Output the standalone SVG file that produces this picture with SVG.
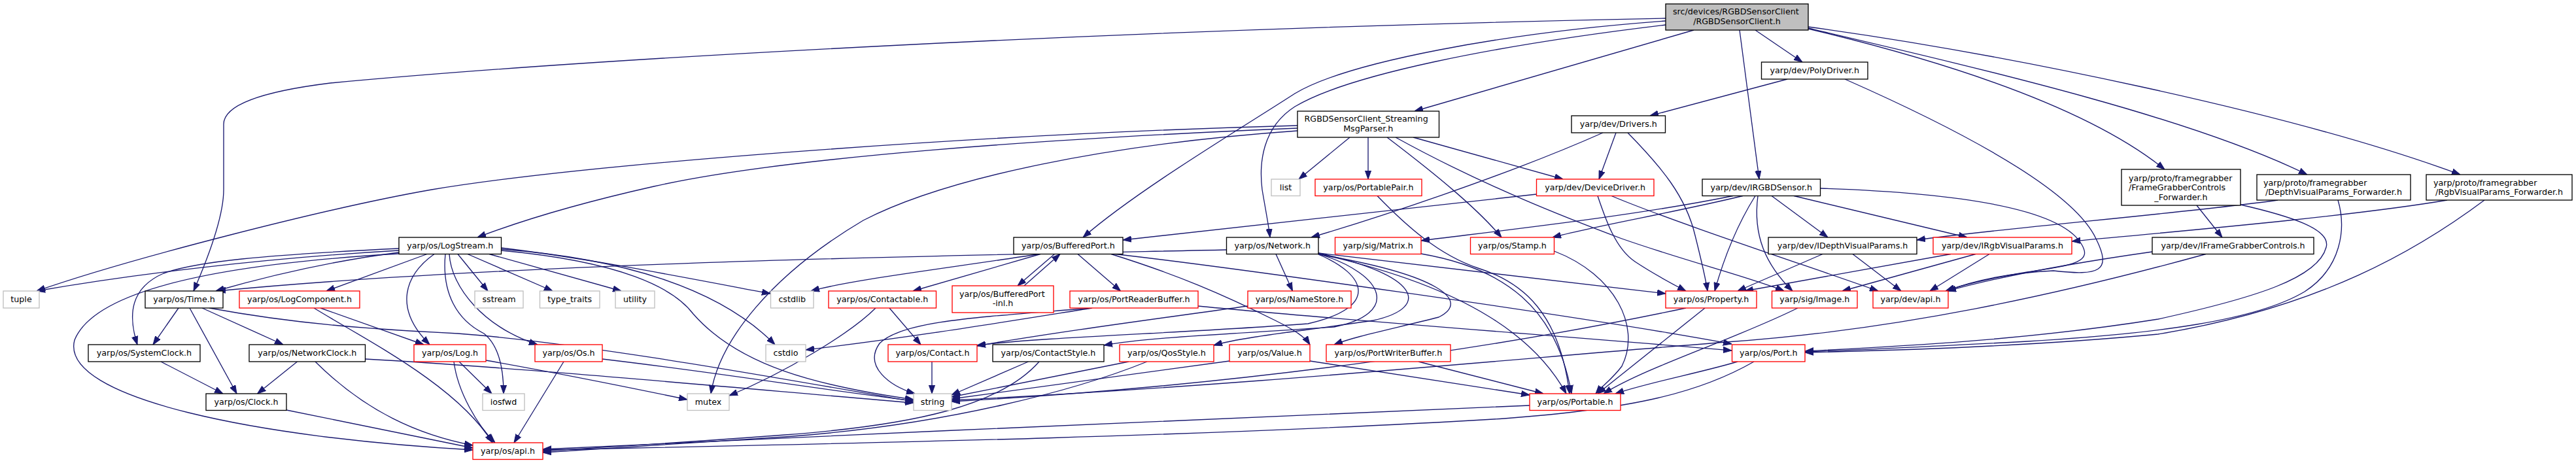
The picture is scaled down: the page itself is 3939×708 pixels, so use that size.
<svg xmlns="http://www.w3.org/2000/svg" width="3939" height="708" viewBox="0 0 3939 708">
<style>
.n rect{fill:#fff;stroke-width:1.33}
.b rect{stroke:#000}
.r rect{stroke:#ff0000}
.g rect{stroke:#bfbfbf}
.top rect{fill:#bfbfbf;stroke:#000}
text{font-family:"DejaVu Sans","Liberation Sans",sans-serif;font-size:12.7px;fill:#000}
.c{text-anchor:middle}
#edges path{fill:none;stroke:#191970;stroke-width:1.33;marker-end:url(#arr)}
</style>
<defs>
<marker id="arr" viewBox="0 0 13 10" refX="13" refY="5" markerWidth="13" markerHeight="10" markerUnits="userSpaceOnUse" orient="auto">
<path d="M0,0.4 L13,5 L0,9.6 z" fill="#191970" stroke="#191970" stroke-width="1"/>
</marker>
</defs>
<rect width="3939" height="708" fill="#fff"/>
<g id="edges">
<path d="M2684,46 L2756,95"/>
<path d="M2590,46 L2163,170"/>
<path d="M2660,46 L2690,274"/>
<path d="M2765,44 C3000,100 3200,170 3310,259"/>
<path d="M2765,43 C3050,110 3350,180 3528,267"/>
<path d="M2765,41 C3050,80 3500,170 3762,267"/>
<path d="M2547,32 C2300,50 2060,95 1980,143 C1900,195 1740,290 1656,363"/>
<path d="M2547,38 C2280,70 2060,115 1980,163 C1930,195 1925,250 1930,290 C1935,320 1940,345 1942,363"/>
<path d="M2547,28 C1700,45 900,90 505,127 C400,140 342,160 342,190 L342,290 C342,330 320,390 296,445"/>
<path d="M2733,121 L2523,177"/>
<path d="M2821,121 C3000,200 3170,290 3205,365 C3230,415 3210,422 3140,414 C3060,418 3010,432 2976,445"/>
<path d="M2064,210 L1986,274"/>
<path d="M2092,210 L2092,274"/>
<path d="M2161,210 L2390,274"/>
<path d="M2121,210 C2200,270 2260,320 2296,363"/>
<path d="M2134,210 C2270,285 2400,335 2480,365 C2580,400 2680,425 2728,445"/>
<path d="M1984,192 C1500,205 900,250 660,290 C500,318 200,395 56,445"/>
<path d="M1984,196 C1600,212 1200,240 1000,285 C880,312 790,340 730,363"/>
<path d="M1984,200 C1700,220 1450,270 1320,337 C1180,420 1100,520 1087,602"/>
<path d="M2106,299.5 C2150,345 2200,390 2260,410 C2330,432 2385,480 2400,602"/>
<path d="M2471,203 L2445,274"/>
<path d="M2489,203 C2540,255 2578,300 2592,360 C2602,400 2608,425 2611,445"/>
<path d="M2451,203 C2300,270 2100,335 2005,363"/>
<path d="M2349.5,297 L1717,367"/>
<path d="M2443,299.5 C2455,335 2470,380 2500,400 C2530,420 2555,433 2578,445"/>
<path d="M2464,299.5 C2560,340 2780,412 2872,445"/>
<path d="M2709,299.5 L2795,363"/>
<path d="M2743,299.5 L3008,363"/>
<path d="M2783.5,288 C3000,295 3150,320 3182,372 C3200,400 3175,405 3100,416 C3040,426 3000,436 2975,445"/>
<path d="M2684,299.5 C2665,330 2640,380 2622,445"/>
<path d="M2688,299.5 C2680,360 2700,405 2741,445"/>
<path d="M2650,299.5 C2500,330 2300,352 2173,368"/>
<path d="M2665,299.5 C2560,325 2440,345 2374,363"/>
<path d="M3359,314 L3398,363"/>
<path d="M3426,313 C3500,330 3565,350 3557,378 C3545,425 3450,455 3300,488 C3100,520 2900,530 2760,537"/>
<path d="M3483,306 C3350,325 3050,350 2931,367"/>
<path d="M3575,306 C3588,350 3580,410 3524,446 C3450,490 3300,510 3100,522 C2950,530 2850,535 2760,538"/>
<path d="M3742,306 C3600,330 3350,352 3168,369"/>
<path d="M3799,306 C3700,380 3550,470 3300,511 C3100,530 2900,536 2760,539"/>
<path d="M3291,385 C3150,405 3050,425 2978,445"/>
<path d="M3373,388.5 C3150,450 2900,505 2640,523 C2300,550 1900,590 1455,612"/>
<path d="M2787,388.5 L2657,445"/>
<path d="M2833,388.5 L2907,445"/>
<path d="M2983,388.5 L2668,445"/>
<path d="M3021,388.5 L2817,445"/>
<path d="M3042,388.5 L2951,445"/>
<path d="M610,383 C400,395 200,420 56,445"/>
<path d="M610,386 C500,400 400,425 330,445"/>
<path d="M610,380 C400,390 300,400 250,418 C200,440 195,480 210,527"/>
<path d="M653,388.5 L499,445"/>
<path d="M664,388.5 C620,420 600,470 657,527"/>
<path d="M610,388 C400,400 150,430 114,520 C90,610 400,670 723,688"/>
<path d="M700,388.5 L746,445"/>
<path d="M715,388.5 L845,445"/>
<path d="M748,388.5 L950,445"/>
<path d="M766.5,379 C900,395 1050,425 1178,449"/>
<path d="M766.5,381 C950,395 1100,440 1185,527"/>
<path d="M766.5,383 C950,400 1030,440 1060,480 C1130,560 1250,590 1397,611"/>
<path d="M681,388.5 C675,450 700,490 740,510 C765,530 770,570 770,602"/>
<path d="M687,388.5 C690,440 740,500 822,527"/>
<path d="M273,471 L234,527"/>
<path d="M290,471 L362,602"/>
<path d="M309,471 L433,527"/>
<path d="M320,471 C450,495 560,503 700,510 C900,525 1200,580 1397,614"/>
<path d="M490,471 L648,527"/>
<path d="M480,471 C560,520 700,590 753,677"/>
<path d="M246,553 L341,602"/>
<path d="M454.5,553 L393.5,602"/>
<path d="M482,553 C560,630 640,665 723,681"/>
<path d="M558.5,549 C800,562 1200,600 1397,616"/>
<path d="M438,627 C550,650 650,670 723,685"/>
<path d="M702,553 L752,602"/>
<path d="M694,553 C700,600 730,650 757,677"/>
<path d="M743,551 C850,570 950,590 1051,611"/>
<path d="M862,553 L786,677"/>
<path d="M921,549 C1100,570 1250,595 1397,613"/>
<path d="M1591,388.5 L1396,445"/>
<path d="M1612.5,388.5 L1556,437"/>
<path d="M1566,437 L1621,388.5"/>
<path d="M1648,388.5 L1713.5,445"/>
<path d="M1589,388.5 C1450,410 1300,428 1240,445"/>
<path d="M1705,388.5 C1850,405 2400,480 2648,526"/>
<path d="M1699,388.5 C1800,420 1870,450 1950,490 C1980,505 1995,515 2003,527"/>
<path d="M1875.5,382 C1500,390 800,400 332,445"/>
<path d="M1951,388.5 L1976.5,445"/>
<path d="M2016,389 C2090,420 2110,470 2000,495 C1800,510 1600,515 1494,528"/>
<path d="M2016,388 C2120,420 2140,480 2040,500 C1900,510 1760,515 1688,528"/>
<path d="M2016,387 C2170,420 2190,470 2100,490 C2000,505 1900,515 1856,528"/>
<path d="M2016,389 C2200,420 2250,460 2200,485 C2120,505 2070,515 2040,527"/>
<path d="M2016,387 L2547,449"/>
<path d="M2016,388 C2250,440 2350,520 2395,602"/>
<path d="M2173,388 C2300,410 2380,470 2403,602"/>
<path d="M2376.5,384 C2470,420 2510,500 2480,560 C2465,580 2450,590 2440,602"/>
<path d="M1670,471 C1550,490 1400,515 1232,535"/>
<path d="M1669,471 C1500,485 1380,490 1345,525 C1320,560 1360,590 1399,602"/>
<path d="M1832,468 C2000,485 2400,515 2648,536"/>
<path d="M1360,471 L1408,527"/>
<path d="M1339,471 C1300,510 1200,570 1115,605"/>
<path d="M1425,553 L1425,602"/>
<path d="M1572.5,553 L1455,604"/>
<path d="M1589,553 C1530,620 1400,650 1200,665 C1000,680 900,685 830,690"/>
<path d="M1726,553 L1455,607"/>
<path d="M1754,553 C1650,595 1450,650 1200,668 C1000,682 900,688 830,692"/>
<path d="M1880,552 L1455,610"/>
<path d="M2003,552 L2339,604"/>
<path d="M2169,553 L2360,602"/>
<path d="M2607,471 L2443,602"/>
<path d="M2578,471 C2300,530 1900,590 1455,614"/>
<path d="M2749,471 C2650,520 2520,560 2452,602"/>
<path d="M2657,553 C2600,570 2520,585 2470,602"/>
<path d="M2682,553 C2600,600 2500,625 2300,640 C1800,670 1200,680 830,688"/>
<path d="M2339,620 C2000,633 1300,665 830,687"/>
<path d="M1908,468 C1750,490 1600,510 1494,529"/>
</g>
<g id="n01" class="n top"><rect x="2547" y="6" width="218" height="40"/><text x="2558" y="22">src/devices/RGBDSensorClient</text><text class="c" x="2656" y="37">/RGBDSensorClient.h</text></g>
<g id="n02" class="n b"><rect x="2693.5" y="95" width="162.5" height="26"/><text class="c" x="2774.75" y="112">yarp/dev/PolyDriver.h</text></g>
<g id="n03" class="n b"><rect x="1984" y="170" width="216.5" height="40"/><text x="1994.5" y="186">RGBDSensorClient_Streaming</text><text class="c" x="2092.25" y="201">MsgParser.h</text></g>
<g id="n04" class="n b"><rect x="2403" y="177" width="143.5" height="26"/><text class="c" x="2474.75" y="194">yarp/dev/Drivers.h</text></g>
<g id="n05" class="n g"><rect x="1944" y="274" width="44" height="25.5"/><text class="c" x="1966" y="291">list</text></g>
<g id="n06" class="n r"><rect x="2011" y="274" width="163" height="25.5"/><text class="c" x="2092.5" y="291">yarp/os/PortablePair.h</text></g>
<g id="n07" class="n r"><rect x="2349.5" y="274" width="179.5" height="25.5"/><text class="c" x="2439.25" y="291">yarp/dev/DeviceDriver.h</text></g>
<g id="n08" class="n b"><rect x="2603" y="274" width="180.5" height="25.5"/><text class="c" x="2693.25" y="291">yarp/dev/IRGBDSensor.h</text></g>
<g id="n09" class="n b"><rect x="3244" y="259" width="182" height="55"/><text x="3255" y="276.5">yarp/proto/framegrabber</text><text x="3255" y="291">/FrameGrabberControls</text><text class="c" x="3335" y="305.5">_Forwarder.h</text></g>
<g id="n10" class="n b"><rect x="3451" y="267" width="235" height="39"/><text x="3461" y="283.5">yarp/proto/framegrabber</text><text class="c" x="3568.5" y="298">/DepthVisualParams_Forwarder.h</text></g>
<g id="n11" class="n b"><rect x="3710" y="267" width="223" height="39"/><text x="3721" y="283.5">yarp/proto/framegrabber</text><text class="c" x="3821.5" y="298">/RgbVisualParams_Forwarder.h</text></g>
<g id="n12" class="n b"><rect x="610" y="363" width="156.5" height="25.5"/><text class="c" x="688.25" y="380">yarp/os/LogStream.h</text></g>
<g id="n13" class="n b"><rect x="1550" y="363" width="167" height="25.5"/><text class="c" x="1633.5" y="380">yarp/os/BufferedPort.h</text></g>
<g id="n14" class="n b"><rect x="1875.5" y="363" width="140.5" height="25.5"/><text class="c" x="1945.75" y="380">yarp/os/Network.h</text></g>
<g id="n15" class="n r"><rect x="2041.5" y="363" width="131.5" height="25.5"/><text class="c" x="2107.25" y="380">yarp/sig/Matrix.h</text></g>
<g id="n16" class="n r"><rect x="2248.5" y="363" width="128" height="25.5"/><text class="c" x="2312.5" y="380">yarp/os/Stamp.h</text></g>
<g id="n17" class="n b"><rect x="2704" y="363" width="227" height="25.5"/><text class="c" x="2817.5" y="380">yarp/dev/IDepthVisualParams.h</text></g>
<g id="n18" class="n r"><rect x="2956" y="363" width="212" height="25.5"/><text class="c" x="3062" y="380">yarp/dev/IRgbVisualParams.h</text></g>
<g id="n19" class="n b"><rect x="3291" y="363" width="247" height="25.5"/><text class="c" x="3414.5" y="380">yarp/dev/IFrameGrabberControls.h</text></g>
<g id="n20" class="n g"><rect x="5" y="445" width="55" height="26"/><text class="c" x="32.5" y="462">tuple</text></g>
<g id="n21" class="n b"><rect x="222" y="445" width="119" height="26"/><text class="c" x="281.5" y="462">yarp/os/Time.h</text></g>
<g id="n22" class="n r"><rect x="366" y="445" width="184" height="26"/><text class="c" x="458" y="462">yarp/os/LogComponent.h</text></g>
<g id="n23" class="n g"><rect x="726" y="445" width="74" height="26"/><text class="c" x="763" y="462">sstream</text></g>
<g id="n24" class="n g"><rect x="825.5" y="445" width="91.5" height="26"/><text class="c" x="871.25" y="462">type_traits</text></g>
<g id="n25" class="n g"><rect x="941" y="445" width="60" height="26"/><text class="c" x="971" y="462">utility</text></g>
<g id="n26" class="n g"><rect x="1178.5" y="445" width="65.5" height="26"/><text class="c" x="1211.25" y="462">cstdlib</text></g>
<g id="n27" class="n r"><rect x="1267" y="445" width="164.5" height="26"/><text class="c" x="1349.25" y="462">yarp/os/Contactable.h</text></g>
<g id="n28" class="n r"><rect x="1456" y="437" width="155" height="41"/><text x="1467" y="454">yarp/os/BufferedPort</text><text class="c" x="1533.5" y="468">-inl.h</text></g>
<g id="n29" class="n r"><rect x="1636" y="445" width="196" height="26"/><text class="c" x="1734" y="462">yarp/os/PortReaderBuffer.h</text></g>
<g id="n30" class="n r"><rect x="1908" y="445" width="158" height="26"/><text class="c" x="1987" y="462">yarp/os/NameStore.h</text></g>
<g id="n31" class="n r"><rect x="2547" y="445" width="139" height="26"/><text class="c" x="2616.5" y="462">yarp/os/Property.h</text></g>
<g id="n32" class="n r"><rect x="2709.5" y="445" width="130.5" height="26"/><text class="c" x="2774.75" y="462">yarp/sig/Image.h</text></g>
<g id="n33" class="n r"><rect x="2864" y="445" width="115" height="26"/><text class="c" x="2921.5" y="462">yarp/dev/api.h</text></g>
<g id="n34" class="n b"><rect x="135" y="527" width="171" height="26"/><text class="c" x="220.5" y="544">yarp/os/SystemClock.h</text></g>
<g id="n35" class="n b"><rect x="381" y="527" width="177.5" height="26"/><text class="c" x="469.75" y="544">yarp/os/NetworkClock.h</text></g>
<g id="n36" class="n r"><rect x="633" y="527" width="110" height="26"/><text class="c" x="688" y="544">yarp/os/Log.h</text></g>
<g id="n37" class="n r"><rect x="818" y="527" width="103" height="26"/><text class="c" x="869.5" y="544">yarp/os/Os.h</text></g>
<g id="n38" class="n g"><rect x="1171" y="527" width="61" height="26"/><text class="c" x="1201.5" y="544">cstdio</text></g>
<g id="n39" class="n r"><rect x="1358" y="527" width="136" height="26"/><text class="c" x="1426" y="544">yarp/os/Contact.h</text></g>
<g id="n40" class="n b"><rect x="1518" y="527" width="170" height="26"/><text class="c" x="1603" y="544">yarp/os/ContactStyle.h</text></g>
<g id="n41" class="n r"><rect x="1712" y="527" width="144" height="26"/><text class="c" x="1784" y="544">yarp/os/QosStyle.h</text></g>
<g id="n42" class="n r"><rect x="1880" y="527" width="123" height="26"/><text class="c" x="1941.5" y="544">yarp/os/Value.h</text></g>
<g id="n43" class="n r"><rect x="2028" y="527" width="190" height="26"/><text class="c" x="2123" y="544">yarp/os/PortWriterBuffer.h</text></g>
<g id="n44" class="n r"><rect x="2648.5" y="527" width="111.5" height="26"/><text class="c" x="2704.25" y="544">yarp/os/Port.h</text></g>
<g id="n45" class="n b"><rect x="315" y="602" width="123" height="25.5"/><text class="c" x="376.5" y="619">yarp/os/Clock.h</text></g>
<g id="n46" class="n g"><rect x="738" y="602" width="64" height="25.5"/><text class="c" x="770" y="619">iosfwd</text></g>
<g id="n47" class="n g"><rect x="1051" y="602" width="64" height="25.5"/><text class="c" x="1083" y="619">mutex</text></g>
<g id="n48" class="n g"><rect x="1397" y="602" width="58" height="25.5"/><text class="c" x="1426" y="619">string</text></g>
<g id="n49" class="n r"><rect x="2339" y="602" width="139" height="25.5"/><text class="c" x="2408.5" y="619">yarp/os/Portable.h</text></g>
<g id="n50" class="n r"><rect x="723" y="677" width="107" height="25.5"/><text class="c" x="776.5" y="694">yarp/os/api.h</text></g>
</svg>
